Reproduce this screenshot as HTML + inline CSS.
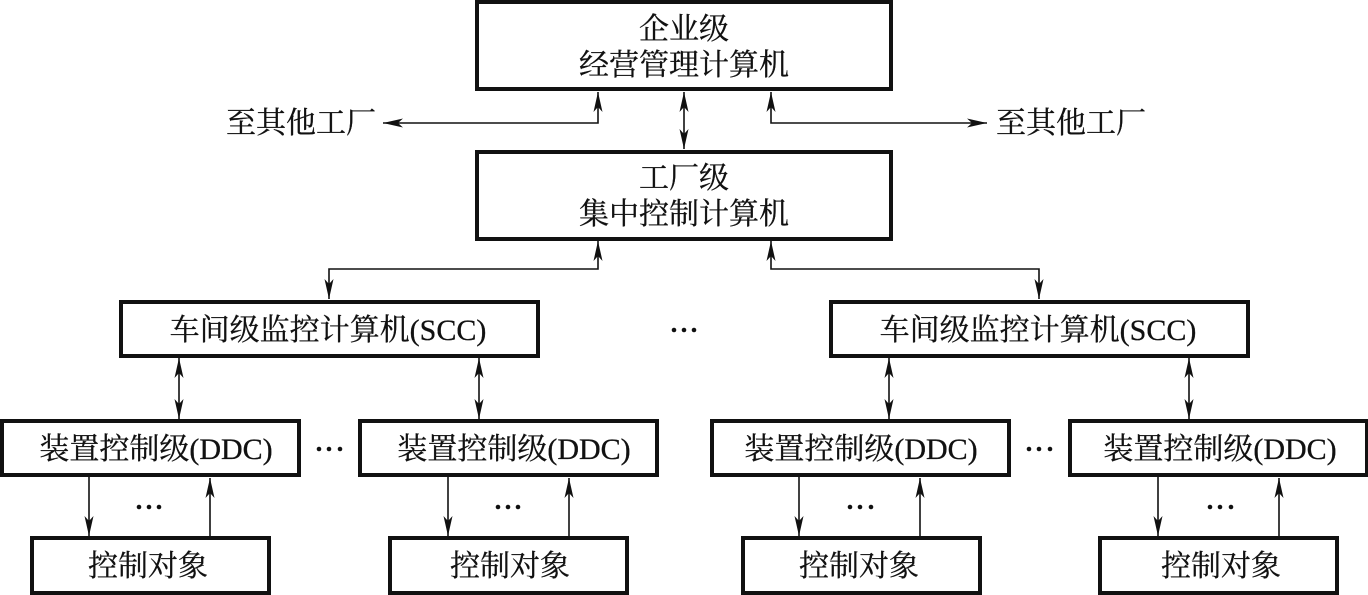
<!DOCTYPE html>
<html><head><meta charset="utf-8"><style>
html,body{margin:0;padding:0;background:#fff}
svg{display:block}
text{font-family:"Liberation Serif","Noto Serif CJK SC",serif;font-size:30px;fill:#111;stroke:#111;stroke-width:.3;text-anchor:middle}
.b{fill:#fff;stroke:#111;stroke-width:4}
.l{fill:none;stroke:#111;stroke-width:1.6}
.d{fill:#111}
</style></head><body>
<svg width="1368" height="595" viewBox="0 0 1368 595" xmlns="http://www.w3.org/2000/svg">
<defs>
<marker id="a" markerUnits="userSpaceOnUse" markerWidth="24" markerHeight="12" refX="22" refY="6" orient="auto-start-reverse"><path d="M22 6L2 1.5L7 6L2 10.5Z" fill="#111"/></marker>
</defs>
<rect class="b" x="477" y="2" width="414" height="87"/>
<rect class="b" x="477" y="152" width="414" height="87"/>
<rect class="b" x="121" y="302" width="417" height="54"/>
<rect class="b" x="831" y="302" width="417" height="54"/>
<rect class="b" x="2" y="421" width="297" height="54"/>
<rect class="b" x="360" y="421" width="297" height="54"/>
<rect class="b" x="712" y="421" width="297" height="54"/>
<rect class="b" x="1070" y="421" width="297" height="54"/>
<rect class="b" x="32" y="538" width="237" height="55"/>
<rect class="b" x="390" y="538" width="237" height="55"/>
<rect class="b" x="743" y="538" width="237" height="55"/>
<rect class="b" x="1100" y="538" width="237" height="55"/>

<path class="l" d="M598 92V123H383" marker-start="url(#a)" marker-end="url(#a)"/>
<path class="l" d="M771 92V123H987" marker-start="url(#a)" marker-end="url(#a)"/>
<path class="l" d="M684 92V149" marker-start="url(#a)" marker-end="url(#a)"/>
<path class="l" d="M598 241V269H329V299" marker-start="url(#a)" marker-end="url(#a)"/>
<path class="l" d="M771 241V269H1039V299" marker-start="url(#a)" marker-end="url(#a)"/>
<path class="l" d="M179 358V419" marker-start="url(#a)" marker-end="url(#a)"/>
<path class="l" d="M479 358V419" marker-start="url(#a)" marker-end="url(#a)"/>
<path class="l" d="M889 358V419" marker-start="url(#a)" marker-end="url(#a)"/>
<path class="l" d="M1189 358V419" marker-start="url(#a)" marker-end="url(#a)"/>
<path class="l" d="M89 477V536" marker-end="url(#a)"/>
<path class="l" d="M448 477V536" marker-end="url(#a)"/>
<path class="l" d="M799 477V536" marker-end="url(#a)"/>
<path class="l" d="M1158 477V536" marker-end="url(#a)"/>
<path class="l" d="M210 536V478" marker-end="url(#a)"/>
<path class="l" d="M569 536V478" marker-end="url(#a)"/>
<path class="l" d="M920 536V478" marker-end="url(#a)"/>
<path class="l" d="M1279 536V478" marker-end="url(#a)"/>

<text x="684" y="39">企业级</text>
<text x="684" y="75">经营管理计算机</text>
<text x="684" y="188">工厂级</text>
<text x="684" y="224">集中控制计算机</text>
<text x="301" y="133">至其他工厂</text>
<text x="1071" y="133">至其他工厂</text>
<text x="328" y="340">车间级监控计算机(SCC)</text>
<text x="1038" y="340">车间级监控计算机(SCC)</text>
<text x="156" y="459">装置控制级(DDC)</text>
<text x="514" y="459">装置控制级(DDC)</text>
<text x="861" y="459">装置控制级(DDC)</text>
<text x="1220" y="459">装置控制级(DDC)</text>
<text x="148" y="576">控制对象</text>
<text x="510" y="576">控制对象</text>
<text x="859" y="576">控制对象</text>
<text x="1221" y="576">控制对象</text>

<g class="d">
<circle cx="674" cy="330" r="2.3"/><circle cx="684" cy="330" r="2.3"/><circle cx="694" cy="330" r="2.3"/>
<circle cx="319" cy="449" r="2.3"/><circle cx="329" cy="449" r="2.3"/><circle cx="340" cy="449" r="2.3"/>
<circle cx="1029" cy="449" r="2.3"/><circle cx="1039" cy="449" r="2.3"/><circle cx="1050" cy="449" r="2.3"/>
<circle cx="139" cy="507" r="2.3"/><circle cx="149" cy="507" r="2.3"/><circle cx="159" cy="507" r="2.3"/>
<circle cx="498" cy="507" r="2.3"/><circle cx="508" cy="507" r="2.3"/><circle cx="518" cy="507" r="2.3"/>
<circle cx="850" cy="507" r="2.3"/><circle cx="860" cy="507" r="2.3"/><circle cx="871" cy="507" r="2.3"/>
<circle cx="1210" cy="507" r="2.3"/><circle cx="1220" cy="507" r="2.3"/><circle cx="1231" cy="507" r="2.3"/>
</g>
</svg>
</body></html>
